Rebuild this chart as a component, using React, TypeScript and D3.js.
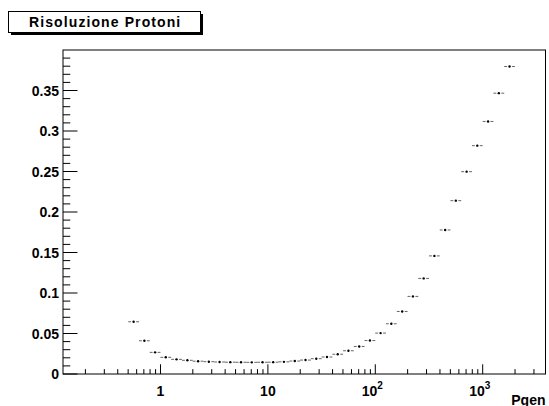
import React from "react";
import * as d3 from "d3";

// ---- data ----
const pgen = [0.562, 0.708, 0.891, 1.12, 1.41, 1.78, 2.24, 2.82, 3.55, 4.47, 5.62, 7.08, 8.91, 11.2, 14.1, 17.8, 22.4, 28.2, 35.5, 44.7, 56.2, 70.8, 89.1, 112, 141, 178, 224, 282, 355, 447, 562, 708, 891, 1122, 1413, 1778];
const resolution = [0.0645, 0.041, 0.0267, 0.0206, 0.0181, 0.0169, 0.0158, 0.0152, 0.0148, 0.0146, 0.0145, 0.0144, 0.0145, 0.0146, 0.015, 0.016, 0.0172, 0.0189, 0.021, 0.0244, 0.0287, 0.034, 0.0413, 0.0505, 0.062, 0.0772, 0.0958, 0.118, 0.1458, 0.1778, 0.214, 0.2498, 0.2819, 0.3118, 0.3467, 0.3796];
const binHalfWidthDecades = 0.05;
const yTickLabels = ["0", "0.05", "0.1", "0.15", "0.2", "0.25", "0.3", "0.35"];
const yTickValues = [0, 0.05, 0.1, 0.15, 0.2, 0.25, 0.3, 0.35];
const xMajorValues = [1, 10, 100, 1000];
const xMajorBase = ["1", "10", "10", "10"];
const xMajorExp = ["", "", "2", "3"];
const xDomain = [0.1237, 3843];
const yDomain = [0, 0.4];
const title = "Risoluzione Protoni";
const xTitle = "Pgen";

const W = 549, H = 406;
const FL = 63, FR = 545.5, FT = 50, FB = 374;
const FONT = "'Liberation Sans', Arial, Helvetica, sans-serif";

export default function App() {
  const x = d3.scaleLog().domain(xDomain).range([FL, FR]);
  const y = d3.scaleLinear().domain(yDomain).range([FB, FT]);

  // minor x ticks
  const xMinor: number[] = [];
  for (let e = -1; e <= 3; e++) {
    for (let m = 2; m <= 9; m++) {
      const v = m * Math.pow(10, e);
      if (v > xDomain[0] && v < xDomain[1]) xMinor.push(v);
    }
  }
  const yMinor: number[] = [];
  for (let i = 1; i < 40; i++) {
    if (i % 5 !== 0) yMinor.push(i * 0.01);
  }
  const xTickMajor = 0.03 * (FB - FT);
  const yTickMajor = 0.03 * (FR - FL);
  const f = Math.pow(10, binHalfWidthDecades);

  return (
    <svg width={W} height={H} style={{ position: "absolute", left: 0, top: 0, background: "#fff" }} fontFamily={FONT}>
      <rect x={0} y={0} width={W} height={H} fill="#fff" />
      {/* title box */}
      <rect x={11} y={14} width={192} height={21} fill="#000" />
      <rect x={8.5} y={11.5} width={192} height={21} fill="#fff" stroke="#000" strokeWidth={1} />
      <text x={29} y={27} fontSize={14} fontWeight="bold" letterSpacing={1.1}>{title}</text>

      {/* frame */}
      <rect x={FL} y={FT} width={FR - FL} height={FB - FT} fill="none" stroke="#000" strokeWidth={1} />

      {/* x ticks */}
      {xMajorValues.map((v) => (
        <line key={"xm" + v} x1={x(v)} x2={x(v)} y1={FB} y2={FB - xTickMajor} stroke="#000" />
      ))}
      {xMinor.map((v) => (
        <line key={"xn" + v} x1={x(v)} x2={x(v)} y1={FB} y2={FB - xTickMajor / 2} stroke="#000" />
      ))}
      {xMajorValues.map((v, i) => (
        <text key={"xl" + v} x={x(v) - (xMajorExp[i] ? 3 : 0)} y={396} fontSize={14} fontWeight="bold" textAnchor="middle">
          {xMajorBase[i]}
          {xMajorExp[i] ? <tspan fontSize={10} dy={-7}>{xMajorExp[i]}</tspan> : null}
        </text>
      ))}
      <text x={FR} y={405} fontSize={14} fontWeight="bold" textAnchor="end">{xTitle}</text>

      {/* y ticks */}
      {yTickValues.map((v) => (
        <line key={"ym" + v} x1={FL} x2={FL + yTickMajor} y1={y(v)} y2={y(v)} stroke="#000" />
      ))}
      {yMinor.map((v) => (
        <line key={"yn" + v} x1={FL} x2={FL + yTickMajor / 2} y1={y(v)} y2={y(v)} stroke="#000" />
      ))}
      {yTickValues.map((v, i) => (
        <text key={"yl" + v} x={59} y={y(v) + 5} fontSize={14} fontWeight="bold" textAnchor="end">{yTickLabels[i]}</text>
      ))}

      {/* data points */}
      {pgen.map((p, i) => {
        const cx = x(p);
        const cy = y(resolution[i]);
        const xl = x(p / f);
        const xh = x(p * f);
        return (
          <g key={"pt" + i}>
            <line x1={xl} x2={cx - 2.5} y1={cy} y2={cy} stroke="#666" strokeWidth={1} />
            <line x1={cx + 2.5} x2={xh} y1={cy} y2={cy} stroke="#666" strokeWidth={1} />
            <circle cx={cx} cy={cy} r={1.2} fill="#000" />
          </g>
        );
      })}
    </svg>
  );
}
